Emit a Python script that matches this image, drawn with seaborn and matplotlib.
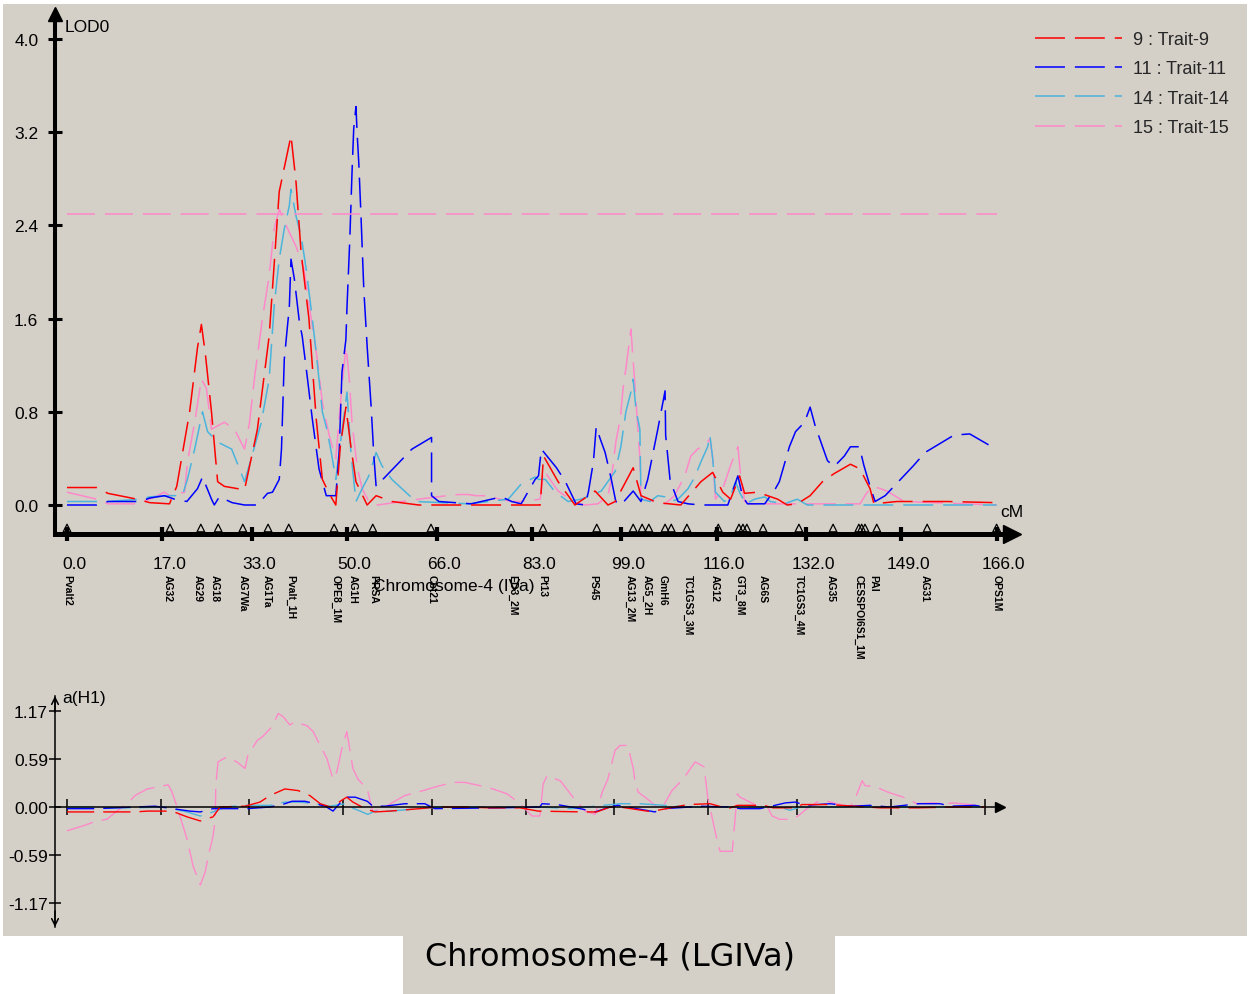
import matplotlib
matplotlib.use("Agg")
import matplotlib.pyplot as plt
from matplotlib.lines import Line2D
from matplotlib.patches import Rectangle
from matplotlib.transforms import ScaledTranslation
import numpy as np
import pandas as pd
import seaborn as sns

# ---------------- data ----------------
trait_names = ["9 : Trait-9", "11 : Trait-11", "14 : Trait-14", "15 : Trait-15"]
trait_colors = ["#ff0000", "#0000ff", "#4ab4dc", "#ff88c8"]

# LOD profiles along the linkage group (cM, LOD)
t9_pos = [0, 5.3, 7.3, 12.5, 14.8, 18.3, 19.6, 21.9, 23.3, 24.0, 24.7, 25.8, 26.9, 28.1, 31.7,
          34.0, 36.1, 37.9, 40.0, 40.9, 41.8, 43.2, 44.5, 45.6, 46.8, 48.0, 48.8, 49.8, 50.7,
          51.6, 53.6, 55.2, 58.0, 62.8, 74.4, 84.5, 85.1, 87.7, 90.7, 94.3, 96.6, 97.9, 101.1,
          102.5, 105.5, 109.6, 113.2, 115.3, 117.1, 118.5, 120.1, 121.0, 123.3, 126.9, 128.6,
          130.4, 132.7, 134.9, 137.0, 139.9, 141.6, 143.4, 144.1, 148.2, 157.1, 166.0]
t9_lod = [0.15, 0.15, 0.10, 0.05, 0.02, 0.01, 0.16, 0.80, 1.35, 1.55, 1.30, 0.80, 0.20, 0.16, 0.13,
          0.65, 1.45, 2.69, 3.17, 2.77, 2.17, 1.60, 0.74, 0.22, 0.10, 0.00, 0.50, 0.84, 0.50,
          0.20, 0.00, 0.08, 0.03, 0.00, 0.00, 0.00, 0.42, 0.20, 0.00, 0.12, 0.00, 0.03, 0.32,
          0.08, 0.02, 0.00, 0.20, 0.28, 0.11, 0.05, 0.25, 0.10, 0.11, 0.05, 0.00,
          0.01, 0.08, 0.20, 0.27, 0.35, 0.31, 0.14, 0.01, 0.03, 0.03, 0.02]

t11_pos = [0, 5.3, 7.3, 13.0, 14.8, 17.4, 19.2, 21.4, 23.3, 24.2, 25.8, 26.3, 27.2, 29.5, 31.7,
           34.0, 35.8, 36.7, 37.9, 38.3, 38.8, 39.7, 40.0, 40.6, 41.5, 42.0, 42.9, 43.8, 45.0,
           46.3, 48.0, 48.6, 49.1, 49.8, 50.0, 50.5, 50.9, 51.2, 51.6, 51.8, 52.1, 52.5, 53.0,
           53.6, 54.3, 54.8, 55.2, 59.8, 61.6, 65.1, 65.1, 66.4, 72.2, 77.6, 79.4, 81.1, 83.6,
           84.2, 84.7, 87.4, 89.0, 90.9, 92.5, 93.1, 94.0, 94.5, 95.2, 96.1, 97.2, 98.0, 98.9,
           101.1, 102.5, 103.7, 105.5, 106.8, 106.9, 107.7, 109.1, 110.9, 113.2, 118.0, 119.8,
           120.6, 121.5, 124.6, 126.5, 127.2, 129.0, 130.1, 131.7, 132.7, 133.6, 135.8, 137.0,
           138.8, 139.9, 141.5, 142.3, 143.4, 144.3, 146.1, 151.2, 153.2, 158.4, 161.2, 164.8]
t11_lod = [0.00, 0.00, 0.03, 0.03, 0.06, 0.08, 0.05, 0.03, 0.14, 0.24, 0.05, 0.00, 0.07, 0.02, 0.00,
           0.00, 0.10, 0.11, 0.22, 0.48, 1.25, 1.70, 2.11, 1.94, 1.57, 1.45, 1.10, 0.74, 0.31,
           0.08, 0.08, 0.45, 1.14, 1.42, 1.70, 2.28, 2.86, 3.23, 3.42, 3.20, 2.94, 2.48, 1.85,
           1.36, 0.85, 0.42, 0.16, 0.39, 0.48, 0.58, 0.08, 0.03, 0.01, 0.07, 0.03, 0.01, 0.22,
           0.25, 0.48, 0.32, 0.20, 0.01, 0.00, 0.11, 0.37, 0.67, 0.57, 0.45, 0.22, 0.03, 0.00,
           0.12, 0.03, 0.22, 0.65, 0.98, 0.60, 0.21, 0.03, 0.01, 0.00, 0.00, 0.25,
           0.08, 0.01, 0.01, 0.14, 0.20, 0.50, 0.63, 0.71, 0.84, 0.68, 0.38, 0.33,
           0.42, 0.50, 0.50, 0.34, 0.16, 0.03, 0.08, 0.34, 0.45, 0.60, 0.61, 0.51]

t14_pos = [0, 5.3, 7.3, 13.0, 14.8, 18.3, 20.6, 21.5, 22.8, 24.2, 25.1, 26.9, 29.4, 30.8, 31.7,
           32.9, 34.7, 36.1, 37.0, 37.9, 38.8, 39.7, 40.0, 40.9, 41.8, 42.7, 43.6, 44.5, 45.6,
           46.4, 47.2, 48.0, 48.6, 50.0, 50.7, 51.6, 52.7, 53.9, 55.2, 56.2, 58.0, 62.3, 71.7,
           78.8, 81.1, 83.6, 84.2, 85.4, 87.2, 89.5, 91.8, 93.4, 95.4, 97.9, 98.9, 99.8, 100.7,
           101.1, 101.6, 102.3, 102.5, 104.1, 105.5, 106.8, 107.8, 109.1, 110.9, 112.1, 113.2,
           114.4, 114.8, 115.3, 115.8, 117.4, 118.5, 119.4, 120.1, 121.2, 122.8, 124.6, 125.6,
           128.1, 130.4, 132.2, 145.0, 166.0]
t14_lod = [0.03, 0.03, 0.03, 0.05, 0.07, 0.08, 0.08, 0.22, 0.48, 0.80, 0.63, 0.54, 0.48, 0.31, 0.20,
           0.40, 0.71, 1.08, 1.71, 2.11, 2.37, 2.57, 2.71, 2.48, 2.31, 2.03, 1.68, 1.31, 0.80,
           0.65, 0.45, 0.22, 0.45, 0.97, 0.45, 0.03, 0.14, 0.25, 0.45, 0.34, 0.22, 0.03, 0.01,
           0.05, 0.18, 0.24, 0.22, 0.22, 0.11, 0.03, 0.05, 0.08, 0.12, 0.29, 0.50, 0.80, 0.97,
           1.08, 0.82, 0.65, 0.05, 0.03, 0.08, 0.07, 0.03, 0.05, 0.14, 0.24, 0.37,
           0.50, 0.60, 0.40, 0.11, 0.03, 0.08, 0.20, 0.11, 0.01, 0.05, 0.07, 0.03,
           0.01, 0.05, 0.00, 0.00, 0.00]

t15_pos = [0, 5.3, 7.3, 12.5, 14.8, 17.4, 18.3, 21.0, 21.5, 22.8, 24.0, 24.9, 25.8, 26.9, 28.1,
           29.9, 31.7, 32.6, 33.5, 34.9, 36.1, 37.0, 37.9, 38.4, 39.7, 40.9, 42.3, 43.6, 44.7,
           45.6, 46.8, 48.0, 48.9, 49.8, 50.0, 50.4, 50.9, 51.8, 52.7, 53.9, 55.5, 62.8, 67.8,
           69.9, 71.7, 73.0, 74.4, 79.4, 81.1, 84.5, 85.1, 87.7, 90.7, 92.5, 94.8, 96.6, 97.2,
           98.0, 98.8, 99.3, 99.8, 100.7, 101.6, 102.3, 102.5, 105.0, 106.8, 108.5, 110.3, 111.4,
           112.6, 114.1, 114.8, 115.3, 115.8, 117.1, 118.5, 119.8, 120.3, 121.0, 122.1, 130.4,
           141.6, 142.9, 144.1, 146.4, 149.5, 166.0]
t15_lod = [0.11, 0.05, 0.01, 0.01, 0.05, 0.11, 0.08, 0.11, 0.37, 0.71, 1.08, 1.00, 0.65, 0.68, 0.71,
           0.65, 0.48, 0.71, 1.10, 1.60, 1.97, 2.37, 2.54, 2.48, 2.34, 2.22, 2.03, 1.60, 1.25,
           0.88, 0.60, 0.40, 0.91, 1.36, 1.28, 1.08, 0.71, 0.33, 0.14, 0.03, 0.00, 0.05, 0.08,
           0.09, 0.09, 0.08, 0.08, 0.03, 0.03, 0.05, 0.30, 0.12, 0.02, 0.00, 0.01, 0.08, 0.22,
           0.54, 0.74, 1.00, 1.17, 1.51, 0.90, 0.40, 0.05, 0.03, 0.01, 0.08, 0.25, 0.42,
           0.48, 0.52, 0.57, 0.40, 0.05, 0.14, 0.34, 0.50, 0.25, 0.03, 0.01, 0.01,
           0.01, 0.11, 0.16, 0.12, 0.03, 0.00]

# additive effects a(H1) (cM, effect)
e9_pos = [0, 5.4, 7.2, 12.3, 14.5, 19.0, 21.7, 24.1, 26.4, 27.7, 32.2, 34.9, 36.7, 39.4, 41.8,
          43.9, 45.8, 48.1, 49.4, 50.6, 51.7, 53.9, 55.7, 58.4, 63.8, 66.9, 71.1, 76.5, 81.9,
          85.2, 93.3, 95.8, 98.2, 100.0, 104.9, 106.0, 112.3, 116.3, 119.5, 121.3, 124.1, 125.9,
          127.7, 132.0, 132.9, 137.6, 147.0, 153.9, 160.9, 166.0]
e9_val = [-0.06, -0.06, -0.06, -0.06, -0.05, -0.05, -0.12, -0.17, -0.12, 0.00, 0.01, 0.06, 0.14,
          0.22, 0.20, 0.14, 0.04, -0.01, 0.07, 0.12, 0.06, -0.02, -0.06, -0.05, -0.02, 0.00,
          0.00, -0.01, -0.01, -0.05, -0.06, -0.06, 0.00, 0.00, -0.05, -0.05, 0.03, 0.04, -0.02,
          0.02, 0.02, 0.02, -0.01, -0.01, 0.03, 0.03, -0.01, -0.01, 0.00, 0.00]

e11_pos = [0, 5.4, 15.9, 22.2, 24.1, 26.4, 30.4, 32.7, 36.7, 39.4, 40.7, 43.0, 44.9, 46.7, 48.1,
           50.3, 52.1, 54.3, 55.3, 57.5, 61.1, 64.7, 66.5, 78.3, 85.5, 85.9, 88.6, 92.8, 95.5,
           98.2, 99.6, 101.4, 106.3, 108.1, 112.7, 114.5, 119.9, 121.7, 125.3, 128.0, 129.9,
           131.7, 133.5, 138.0, 141.6, 145.2, 148.8, 153.9, 157.9, 159.7, 164.2, 166.0]
e11_val = [-0.02, -0.02, 0.01, -0.05, -0.06, -0.02, -0.02, -0.02, 0.00, 0.04, 0.07, 0.07, 0.04,
           0.01, -0.05, 0.12, 0.12, 0.07, 0.01, 0.01, 0.04, 0.04, -0.02, -0.01, 0.00, 0.04,
           0.03, -0.02, -0.06, 0.00, 0.02, 0.00, -0.06, -0.02, 0.00, 0.01, 0.00, -0.02, -0.02,
           0.02, 0.05, 0.06, 0.02, 0.04, 0.01, 0.02, 0.00, 0.04, 0.04, 0.01, 0.02, 0.00]

e14_pos = [0, 5.4, 7.2, 12.3, 17.7, 21.7, 24.1, 26.4, 28.6, 32.2, 36.7, 39.4, 42.1, 44.9, 47.6,
           50.3, 51.2, 53.0, 54.4, 55.7, 58.4, 63.8, 67.5, 81.9, 85.5, 91.0, 100.0, 103.6, 112.7,
           128.9, 130.7, 132.6, 143.4, 166.0]
e14_val = [0.00, 0.00, -0.01, -0.01, 0.00, -0.06, -0.11, -0.06, 0.00, 0.02, 0.02, 0.06, 0.06,
           0.04, 0.01, 0.04, 0.00, -0.05, -0.09, -0.05, -0.05, -0.02, 0.00, 0.00, 0.00, -0.02,
           0.04, 0.04, 0.00, 0.00, -0.04, 0.00, 0.00, 0.00]

e15_pos = [0, 2.9, 5.4, 7.2, 9.0, 10.9, 12.3, 14.5, 16.8, 18.3, 19.0, 19.9, 21.7, 22.8, 24.1,
           25.0, 25.5, 26.4, 26.8, 26.9, 27.3, 28.9, 30.7, 32.2, 32.7, 34.4, 35.4, 37.1, 38.2,
           39.1, 40.3, 41.2, 43.4, 44.5, 47.0, 48.1, 48.8, 49.7, 50.6, 51.7, 52.6, 54.3, 55.3,
           57.5, 59.0, 61.1, 64.4, 66.9, 69.8, 71.9, 74.7, 77.0, 79.6, 81.9, 84.1, 85.5, 86.1,
           86.8, 89.2, 91.5, 93.7, 95.5, 96.9, 97.8, 99.1, 100.0, 101.4, 102.4, 102.7, 103.3,
           104.9, 106.7, 107.8, 109.4, 111.4, 113.6, 115.2, 115.9, 116.6, 117.5, 118.1, 120.3,
           120.8, 121.2, 121.7, 124.1, 125.3, 126.6, 127.5, 128.9, 130.7, 132.2, 133.8, 135.6,
           137.4, 139.2, 141.6, 142.5, 143.8, 144.3, 146.1, 148.5, 151.2, 153.7, 156.6, 159.1,
           160.2, 164.6]
e15_val = [-0.29, -0.23, -0.17, -0.15, -0.05, 0.04, 0.14, 0.22, 0.25, 0.27, 0.18, 0.00, -0.39,
           -0.72, -0.95, -0.79, -0.61, -0.36, -0.15, 0.25, 0.55, 0.61, 0.55, 0.47, 0.63, 0.81,
           0.86, 0.98, 1.14, 1.10, 1.00, 1.04, 0.99, 0.92, 0.59, 0.34, 0.43, 0.71, 0.92, 0.47,
           0.34, 0.22, -0.06, 0.00, 0.06, 0.14, 0.20, 0.25, 0.30, 0.30, 0.26, 0.22, 0.16, 0.04,
           -0.11, -0.11, 0.28, 0.38, 0.32, 0.12, -0.05, -0.09, 0.20, 0.34, 0.69, 0.75, 0.75,
           0.47, 0.32, 0.18, 0.10, 0.00, 0.01, 0.20, 0.34, 0.55, 0.49, 0.10, -0.11, -0.39,
           -0.54, -0.54, -0.15, 0.16, 0.12, 0.04, -0.02, 0.01, -0.11, -0.15, -0.15, -0.11,
           -0.02, 0.06, 0.07, 0.04, 0.00, 0.10, 0.32, 0.26, 0.25, 0.18, 0.12, 0.04, 0.05, 0.04,
           0.05, 0.02]

# marker map
marker_pos = [0.0, 18.4, 23.9, 27.0, 31.4, 35.9, 39.6, 47.7, 51.4, 54.6, 65.0, 79.3, 85.0, 94.6,
              101.1, 102.7, 103.9, 106.8, 107.9, 110.7, 116.3, 120.0, 120.7, 121.4, 124.3, 130.7,
              136.8, 141.4, 141.9, 142.5, 144.6, 153.6, 166.0]
label_pos = [0.0, 17.9, 23.4, 26.4, 31.3, 35.7, 39.8, 47.9, 51.1, 54.6, 65.2, 79.5, 84.8, 93.9,
             100.5, 103.6, 106.4, 110.9, 115.7, 120.2, 124.3, 130.7, 136.3, 141.3, 143.9, 153.2,
             166.0]
label_names = ["Pvalt2", "AG32", "AG29", "AG18", "AG7Wa", "AG1Ta", "Pvalt_1H", "OPE8_1M", "AG1H",
               "PRSA", "Cbt21", "ED3_2M", "Pt13", "PS45", "AG13_2M", "AG5_2H", "GmH6",
               "TC1GS3_3M", "AG12", "GT3_8M", "AG6S", "TC1GS3_4M", "AG35", "CESSPOI6S1_1M",
               "PAI", "AG31", "OPS1M"]

x_tick_pos = [0, 17, 33, 50, 66, 83, 99, 116, 132, 149, 166]
x_tick_labels = ["0.0", "17.0", "33.0", "50.0", "66.0", "83.0", "99.0", "116.0", "132.0",
                 "149.0", "166.0"]
lod_ticks = [0.0, 0.8, 1.6, 2.4, 3.2, 4.0]
lod_tick_labels = ["0.0", "0.8", "1.6", "2.4", "3.2", "4.0"]
eff_ticks = [1.17, 0.59, 0.0, -0.59, -1.17]
eff_tick_labels = ["1.17", "0.59", "0.00", "-0.59", "-1.17"]
threshold = 2.5
chrom_span = [0, 166]

# ---------------- layout (pixels) ----------------
W, H, DPI = 1249, 995, 100
BG = "#d4d0c8"
FS = 12.5


def fx(px):
    return px / W


def fy(py):
    return 1 - py / H


# upper panel: cM 0 at x=67 px, 5.6 px per cM; LOD 0 at y=506 px, 116.5 px per LOD
T_X0, T_SX, T_Y0, T_SY = 67, 5.6, 506, 116.5
T_L, T_R, T_T, T_B = 55, 1012, 15, 535
# lower panel: cM 0 at x=67 px, 5.53 px per cM; effect 0 at y=808 px, 82.05 px per unit
B_X0, B_SX, B_Y0, B_SY = 67, 5.53, 808, 82.05
B_L, B_R, B_T, B_B = 55, 1000, 697, 928

CURVE_LW = 1.1
CURVE_DASH = (19.6, 6.5)

sns.set_theme(style="white")
plt.rcParams["font.family"] = ["Liberation Sans", "DejaVu Sans"]
plt.rcParams["axes.unicode_minus"] = False

fig = plt.figure(figsize=(W / DPI, H / DPI), dpi=DPI, facecolor="white")
fig.add_artist(Rectangle((fx(3), fy(937)), fx(1247) - fx(3), fy(5) - fy(937),
                         transform=fig.transFigure, facecolor=BG, edgecolor="none", zorder=-5))
fig.add_artist(Rectangle((fx(403), 0), fx(835) - fx(403), fy(937),
                         transform=fig.transFigure, facecolor=BG, edgecolor="none", zorder=-5))

palette = dict(zip(trait_names, trait_colors))
draw_order = trait_names[::-1]

# ---------------- LOD panel ----------------
ax = fig.add_axes([fx(T_L), fy(T_B), fx(T_R) - fx(T_L), fy(T_T) - fy(T_B)])
ax.set_facecolor("none")

lod_df = pd.concat([
    pd.DataFrame({"cM": p, "LOD": v, "trait": n})
    for p, v, n in zip([t9_pos, t11_pos, t14_pos, t15_pos],
                       [t9_lod, t11_lod, t14_lod, t15_lod], trait_names)
], ignore_index=True)

sns.lineplot(data=lod_df, x="cM", y="LOD", hue="trait", hue_order=draw_order, palette=palette,
             style="trait", style_order=draw_order,
             dashes={n: CURVE_DASH for n in trait_names},
             sort=False, estimator=None, legend=False, linewidth=CURVE_LW, ax=ax)

ax.plot(chrom_span, [threshold, threshold], color=palette["15 : Trait-15"], lw=CURVE_LW,
        linestyle=(0, (18.3, 6.5)))

ax.set_xlim((T_L - T_X0) / T_SX, (T_R - T_X0) / T_SX)
ax.set_ylim((T_Y0 - T_B) / T_SY, (T_Y0 - T_T) / T_SY)
ax.set_xlabel("")
ax.set_ylabel("")
for s in ("top", "right"):
    ax.spines[s].set_visible(False)
ax.spines["left"].set_linewidth(2.9)
ax.spines["bottom"].set_linewidth(3.6)
for s in ("left", "bottom"):
    ax.spines[s].set_color("black")

ax.set_xticks(x_tick_pos, x_tick_labels)
ax.set_yticks(lod_ticks, lod_tick_labels)
ax.tick_params(axis="x", bottom=True, direction="inout", length=10, width=3, color="black",
               pad=10.5, labelsize=FS, labelcolor="black")
ax.tick_params(axis="y", left=True, direction="inout", length=10, width=2.2, color="black",
               pad=7, labelsize=FS, labelcolor="black")
shift = ScaledTranslation(7 / DPI, 0, fig.dpi_scale_trans)
for lbl in ax.get_xticklabels():
    lbl.set_transform(lbl.get_transform() + shift)

# axis arrow heads
ax.plot([0], [1], marker="^", ms=10, color="black", transform=ax.transAxes, clip_on=False)
ax.plot([1], [0], marker=">", ms=13, color="black", transform=ax.transAxes, clip_on=False)

# marker map: triangles on the axis and rotated names underneath
marker_y = (T_Y0 - 529) / T_SY
ax.scatter(marker_pos, np.full(len(marker_pos), marker_y), marker="^", s=30,
           facecolors="none", edgecolors="black", linewidths=0.9, clip_on=False, zorder=5)
label_y = (T_Y0 - 575) / T_SY
for p, n in zip(label_pos, label_names):
    ax.text(p, label_y, n, rotation=-90, ha="center", va="top", fontsize=7.5,
            fontweight="bold", color="black", clip_on=False)

fig.text(fx(65), fy(27), "LOD0", ha="left", va="center", fontsize=FS, color="black")
fig.text(fx(1000), fy(513), "cM", ha="left", va="center", fontsize=FS, color="black")
fig.text(fx(373), fy(586), "Chromosome-4 (IVa)", ha="left", va="center", fontsize=FS,
         color="black")

legend_handles = [Line2D([0], [0], color=c, lw=CURVE_LW, linestyle=(0, CURVE_DASH))
                  for c in trait_colors]
fig.legend(legend_handles, trait_names, loc="upper left",
           bbox_to_anchor=(fx(1035), fy(32)), frameon=False, fontsize=FS + 0.5,
           handlelength=87 / 18.05, handletextpad=11 / 18.05, labelspacing=0.68,
           borderpad=0, borderaxespad=0)

# ---------------- additive effect panel ----------------
ax2 = fig.add_axes([fx(B_L), fy(B_B), fx(B_R) - fx(B_L), fy(B_T) - fy(B_B)])
ax2.set_facecolor("none")

eff_df = pd.concat([
    pd.DataFrame({"cM": p, "a": v, "trait": n})
    for p, v, n in zip([e9_pos, e11_pos, e14_pos, e15_pos],
                       [e9_val, e11_val, e14_val, e15_val], trait_names)
], ignore_index=True)

sns.lineplot(data=eff_df, x="cM", y="a", hue="trait", hue_order=draw_order, palette=palette,
             style="trait", style_order=draw_order,
             dashes={n: CURVE_DASH for n in trait_names},
             sort=False, estimator=None, legend=False, linewidth=1.0, ax=ax2)

ax2.set_xlim((B_L - B_X0) / B_SX, (B_R - B_X0) / B_SX)
ax2.set_ylim((B_Y0 - B_B) / B_SY, (B_Y0 - B_T) / B_SY)
ax2.set_xlabel("")
ax2.set_ylabel("")
for s in ("top", "right"):
    ax2.spines[s].set_visible(False)
ax2.spines["bottom"].set_position(("data", 0))
for s in ("left", "bottom"):
    ax2.spines[s].set_linewidth(1.1)
    ax2.spines[s].set_color("black")
ax2.set_xticks(x_tick_pos)
ax2.set_yticks(eff_ticks, eff_tick_labels)
ax2.tick_params(axis="x", bottom=True, direction="inout", length=11, width=1.1, color="black",
                labelbottom=False)
ax2.tick_params(axis="y", left=True, direction="inout", length=9, width=1.1, color="black",
                pad=0.5, labelsize=FS, labelcolor="black")

ax2.annotate("", xy=(0, 1), xytext=(0, 0.93), xycoords="axes fraction",
             arrowprops=dict(arrowstyle="->", color="black", lw=1.1, shrinkA=0, shrinkB=0,
                             mutation_scale=12))
ax2.annotate("", xy=(0, 0), xytext=(0, 0.07), xycoords="axes fraction",
             arrowprops=dict(arrowstyle="->", color="black", lw=1.1, shrinkA=0, shrinkB=0,
                             mutation_scale=12))
ax2.plot([1], [0], marker=">", ms=7, color="black", transform=ax2.get_yaxis_transform(),
         clip_on=False)
fig.text(fx(62), fy(699), "a(H1)", ha="left", va="center", fontsize=FS, color="black")

# caption
fig.text(fx(610), fy(957), "Chromosome-4 (LGIVa)", ha="center", va="center", fontsize=23,
         family=["DejaVu Sans"], color="black")

fig.savefig("out.png", dpi=DPI, facecolor="white")
